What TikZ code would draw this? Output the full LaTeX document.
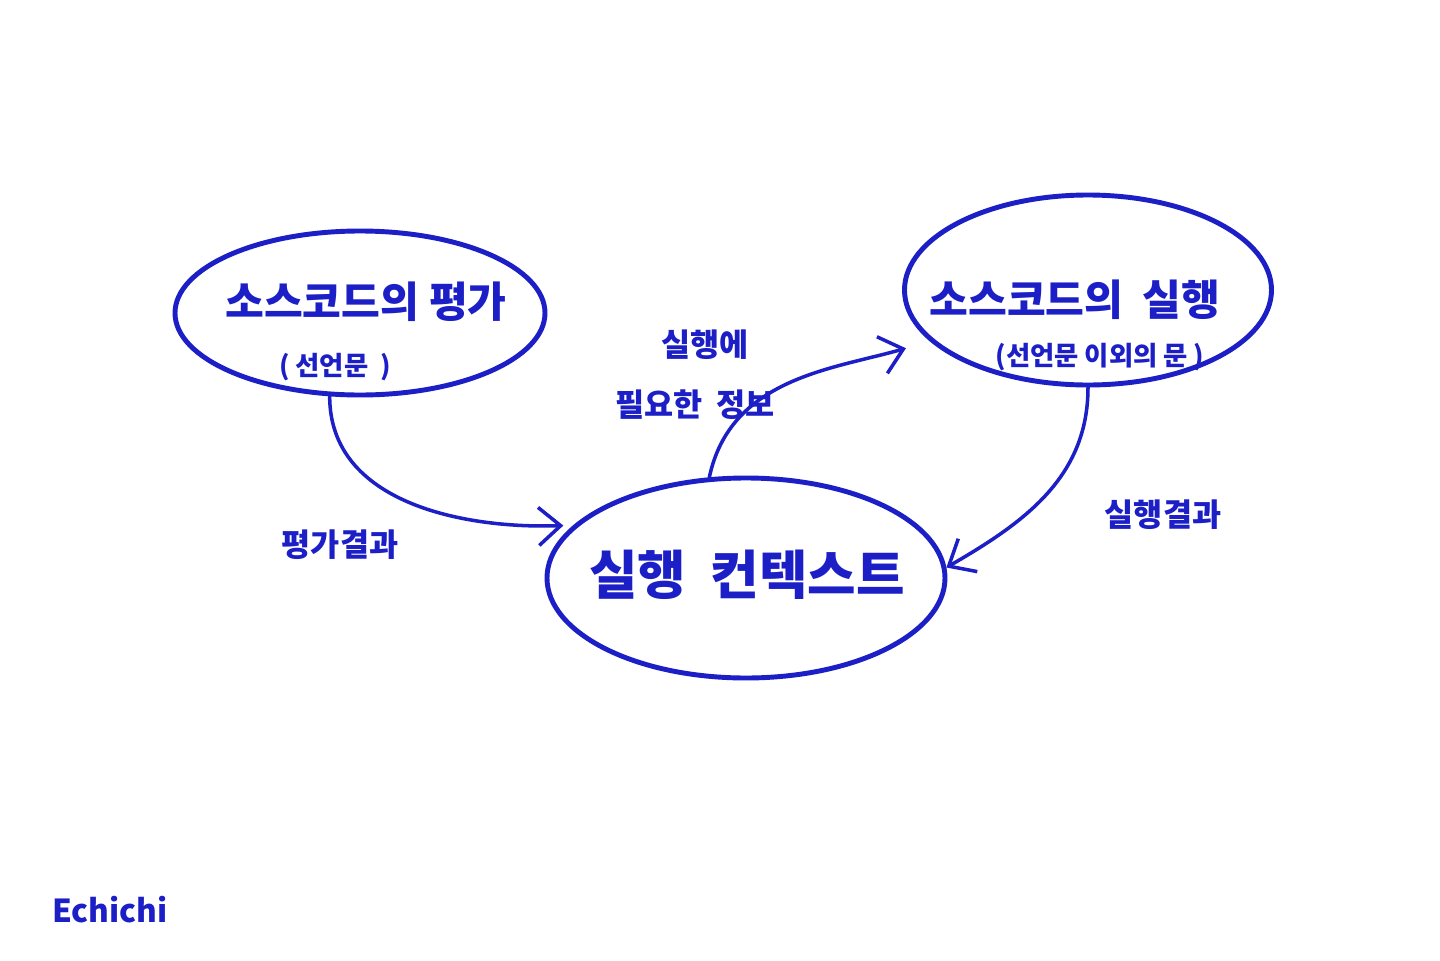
\documentclass[tikz,border=0pt]{standalone}
\usepackage{fontspec}
\newfontfamily\kr{Noto Sans CJK KR}
\usepackage{xcolor}
\definecolor{ink}{RGB}{28,30,198}
\usepackage{tikz}
\usetikzlibrary{arrows.meta,positioning,shapes.geometric}

\begin{document}
\begin{tikzpicture}[
    bubble/.style={draw=ink, line width=1.4pt, ellipse, inner sep=0pt},
    flow/.style={draw=ink, line width=1pt, line cap=round,
                 -{Straight Barb[length=2.2mm,width=3.8mm,line width=1pt]}},
    title/.style={font=\kr\bfseries\fontsize{12}{12}\selectfont, text=ink},
    sub/.style={font=\kr\bfseries\fontsize{7.5}{7.5}\selectfont, text=ink},
    note/.style={font=\kr\bfseries\fontsize{9}{9}\selectfont, text=ink},
  ]
  \useasboundingbox[fill=white] (0,0) rectangle (14.4,9.6);
  %% three stages
  \node[bubble, minimum width=3.70cm, minimum height=1.64cm] (evalbox) at (3.60,6.47) {};
  \node[bubble, minimum width=3.67cm, minimum height=1.90cm] (runbox)  at (10.88,6.70) {};
  \node[bubble, minimum width=3.98cm, minimum height=2.00cm] (ctxbox)  at (7.46,3.82) {};
  \node[title] (evaltitle) at (3.66,6.58) {소스코드의 평가};
  \node[sub]   (evalsub)   at (3.35,5.93) {( 선언문 \ )};
  \node[title] (runtitle)  at (10.75,6.60) {소스코드의 \ 실행};
  \node[sub]   (runsub)    at (11.00,6.03) {(선언문 이외의 문 )};
  \node[title, font=\kr\bfseries\fontsize{15}{15}\selectfont] (ctxtitle) at (7.47,3.85)
    {실행 \ 컨텍스트};
  %% connectors
  \draw[flow, shorten >=1mm] (evalbox.-110) to[out=-90,in=182] (ctxbox.163);
  \draw[flow, shorten >=2.5mm] (ctxbox.110) to[out=78,in=196] (runbox.198);
  \draw[flow] (runbox.-90) to[out=-90,in=30] (ctxbox.3);
  \node[note] (evalres) at (3.40,4.15) {평가결과};
  \node[note] (runres)  at (11.63,4.45) {실행결과};
  \node[note] (needa)   at (7.05,6.15) {실행에};
  \node[note] (needb)   at (6.95,5.55) {필요한 \ 정보};
  %% signature
  \node[note] (sign) at (1.10,0.50) {Echichi};
\end{tikzpicture}
\end{document}
